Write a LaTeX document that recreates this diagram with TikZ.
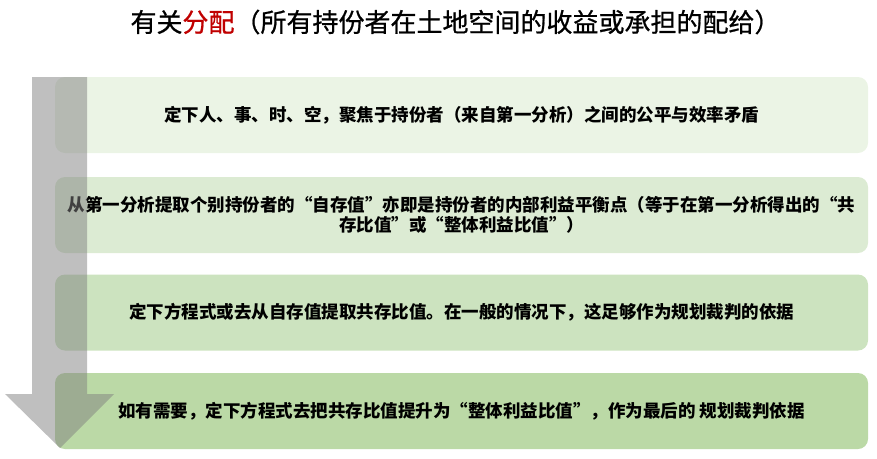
\documentclass[tikz,border=0pt]{standalone}
\usepackage{fontspec}
\newfontfamily\cjk{Noto Sans CJK SC}
\newfontfamily\cjktitle[FakeBold=0.8]{Noto Sans CJK SC}
\usepackage{tikz}
\definecolor{stageone}{HTML}{EBF4E5}
\definecolor{stagetwo}{HTML}{DCEBD3}
\definecolor{stagethree}{HTML}{CCE3BF}
\definecolor{stagefour}{HTML}{BBD9A6}
\definecolor{titlered}{HTML}{C00000}
\begin{document}
\begin{tikzpicture}[x=1pt, y=-1pt,
    stage/.style={rounded corners=10pt, minimum width=813pt, minimum height=76pt,
      inner sep=0pt, align=center, font={\cjk\bfseries\fontsize{17.5}{20}\selectfont}}]
        \useasboundingbox (0, 0) rectangle (877, 458);
        \node (title) at (455.5, 22) {\cjktitle\fontsize{26}{30}\selectfont 有关\textcolor{titlered}{分配}（所有持份者在土地空间的收益或承担的配给）};
        \node[stage, fill=stageone] (s1) at (461.5, 115) {定下人、事、时、空，聚焦于持份者（来自第一分析）之间的公平与效率矛盾};
        \node[stage, fill=stagetwo] (s2) at (461.5, 215) {从第一分析提取个别持份者的“自存值”亦即是持份者的内部利益平衡点（等于在第一分析得出的“共\\存比值”或“整体利益比值”）};
        \node[stage, fill=stagethree] (s3) at (461.5, 312.5) {定下方程式或去从自存值提取共存比值。在一般的情况下，这足够作为规划裁判的依据};
        \node[stage, fill=stagefour] (s4) at (461.5, 411) {如有需要，定下方程式去把共存比值提升为“整体利益比值”，作为最后的 规划裁判依据};
        \fill[gray, fill opacity=0.5] (32, 77) -- (87, 77) -- (87, 394) -- (114, 394) -- (60, 448) -- (5, 394) -- (32, 394) -- cycle;
      \end{tikzpicture}
\end{document}
